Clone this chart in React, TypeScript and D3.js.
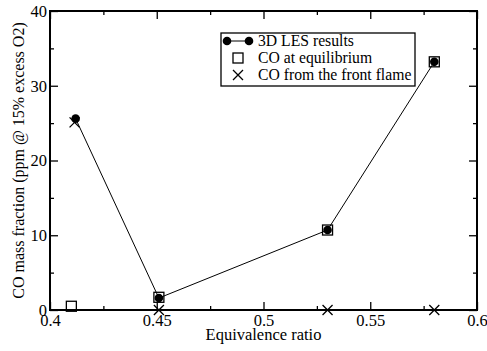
import React, { useRef, useEffect } from "react";
import * as d3 from "d3";

// 3D LES results
const phiLes = [0.412, 0.451, 0.53, 0.58];
const coLes = [25.6, 1.6, 10.7, 33.2];
// CO at equilibrium
const phiEq = [0.41, 0.451, 0.53, 0.58];
const coEq = [0.5, 1.7, 10.7, 33.2];
// CO from the front flame
const phiFlame = [0.4115, 0.451, 0.53, 0.58];
const coFlame = [25.1, 0, 0, 0];

const xMajor = [0.4, 0.45, 0.5, 0.55, 0.6];
const xMinor = [0.425, 0.475, 0.525, 0.575];
const yMajor = [0, 10, 20, 30, 40];
const yMinor = [5, 15, 25, 35];

const legendLabels = ["3D LES results", "CO at equilibrium", "CO from the front flame"];

const W = 487;
const H = 351;
const FONT = "Liberation Serif, DejaVu Serif, serif";

const App = () => {
  const svgRef = useRef<SVGSVGElement>(null);

  useEffect(() => {
    const margin = { top: 11, right: 10, bottom: 41, left: 50 };
    const svg = d3.select(svgRef.current);
    svg.selectAll("*").remove();

    const x = d3.scaleLinear().domain([0.4, 0.6]).range([margin.left, W - margin.right]);
    const y = d3.scaleLinear().domain([0, 40]).range([H - margin.bottom, margin.top]);
    const [x0, x1] = x.range();
    const [yb, yt] = y.range();

    const styleAxis = (g) => {
      g.attr("font-family", null).attr("font-size", null);
      g.select(".domain").remove();
      g.selectAll("line").attr("stroke", "#000").attr("stroke-width", 1.3);
      g.selectAll("text").attr("fill", "#000").attr("font-size", 16.5);
    };

    const fmt = (d) => d3.format("~g")(d);

    // x axes (bottom with labels, top mirrored)
    svg.append("g").attr("transform", `translate(0,${yb})`)
      .call(d3.axisBottom(x).tickValues(xMajor).tickSize(-8).tickPadding(4).tickFormat(fmt))
      .call(styleAxis);
    svg.append("g").attr("transform", `translate(0,${yb})`)
      .call(d3.axisBottom(x).tickValues(xMinor).tickSize(-4).tickFormat(() => ""))
      .call(styleAxis);
    svg.append("g").attr("transform", `translate(0,${yt})`)
      .call(d3.axisTop(x).tickValues(xMajor).tickSize(-8).tickFormat(() => ""))
      .call(styleAxis);
    svg.append("g").attr("transform", `translate(0,${yt})`)
      .call(d3.axisTop(x).tickValues(xMinor).tickSize(-4).tickFormat(() => ""))
      .call(styleAxis);

    // y axes
    svg.append("g").attr("transform", `translate(${x0},0)`)
      .call(d3.axisLeft(y).tickValues(yMajor).tickSize(-8).tickPadding(3).tickFormat(fmt))
      .call(styleAxis);
    svg.append("g").attr("transform", `translate(${x0},0)`)
      .call(d3.axisLeft(y).tickValues(yMinor).tickSize(-4).tickFormat(() => ""))
      .call(styleAxis);
    svg.append("g").attr("transform", `translate(${x1},0)`)
      .call(d3.axisRight(y).tickValues(yMajor).tickSize(-8).tickFormat(() => ""))
      .call(styleAxis);
    svg.append("g").attr("transform", `translate(${x1},0)`)
      .call(d3.axisRight(y).tickValues(yMinor).tickSize(-4).tickFormat(() => ""))
      .call(styleAxis);

    // frame
    svg.append("rect")
      .attr("x", x0).attr("y", yt)
      .attr("width", x1 - x0).attr("height", yb - yt)
      .attr("fill", "none").attr("stroke", "#000").attr("stroke-width", 2);

    // axis titles
    svg.append("text")
      .attr("x", (x0 + x1) / 2).attr("y", 340)
      .attr("text-anchor", "middle")
      .attr("font-size", 16.5)
      .text("Equivalence ratio");
    svg.append("text")
      .attr("transform", `translate(24,${(yb + yt) / 2}) rotate(-90)`)
      .attr("text-anchor", "middle")
      .attr("font-size", 16)
      .text("CO mass fraction (ppm @ 15% excess O2)");

    const sq = 10;
    const crossPath = (cx, cy, r) => `M${cx - r},${cy - r}L${cx + r},${cy + r}M${cx - r},${cy + r}L${cx + r},${cy - r}`;

    // equilibrium squares
    svg.append("g").selectAll("rect")
      .data(phiEq.map((p, i) => [p, coEq[i]]))
      .join("rect")
      .attr("x", (d) => x(d[0]) - sq / 2).attr("y", (d) => y(d[1]) - sq / 2)
      .attr("width", sq).attr("height", sq)
      .attr("fill", "none").attr("stroke", "#000").attr("stroke-width", 1.3);

    // LES line + circles
    const lesData = phiLes.map((p, i) => [p, coLes[i]]);
    svg.append("path")
      .datum(lesData)
      .attr("d", d3.line().x((d) => x(d[0])).y((d) => y(d[1])))
      .attr("fill", "none").attr("stroke", "#000").attr("stroke-width", 1);
    svg.append("g").selectAll("circle")
      .data(lesData)
      .join("circle")
      .attr("cx", (d) => x(d[0])).attr("cy", (d) => y(d[1]))
      .attr("r", 4.3).attr("fill", "#000");

    // front flame crosses
    svg.append("g").selectAll("path")
      .data(phiFlame.map((p, i) => [p, coFlame[i]]))
      .join("path")
      .attr("d", (d) => crossPath(x(d[0]), y(d[1]), 5))
      .attr("stroke", "#000").attr("stroke-width", 1.3).attr("fill", "none");

    // legend
    const lg = svg.append("g");
    lg.append("rect")
      .attr("x", 221).attr("y", 33).attr("width", 194).attr("height", 53)
      .attr("fill", "#fff").attr("stroke", "#000").attr("stroke-width", 1.3);
    const rowY = [41, 58, 75];
    lg.append("line")
      .attr("x1", 227).attr("x2", 249).attr("y1", rowY[0]).attr("y2", rowY[0])
      .attr("stroke", "#000").attr("stroke-width", 1);
    [227, 249].forEach((cx) => {
      lg.append("circle").attr("cx", cx).attr("cy", rowY[0]).attr("r", 4.3).attr("fill", "#000");
    });
    lg.append("rect")
      .attr("x", 238 - sq / 2).attr("y", rowY[1] - sq / 2).attr("width", sq).attr("height", sq)
      .attr("fill", "none").attr("stroke", "#000").attr("stroke-width", 1.3);
    lg.append("path")
      .attr("d", crossPath(238, rowY[2], 5))
      .attr("stroke", "#000").attr("stroke-width", 1.3);
    lg.selectAll("text.lab")
      .data(legendLabels)
      .join("text")
      .attr("class", "lab")
      .attr("x", 258).attr("y", (d, i) => rowY[i])
      .attr("dy", "0.35em")
      .attr("font-size", 15.7)
      .text((d) => d);
  }, []);

  return (
    <svg
      ref={svgRef}
      width={W}
      height={H}
      fontFamily={FONT}
      style={{ position: "absolute", left: 0, top: 0, background: "#fff" }}
    />
  );
};

export default App;
